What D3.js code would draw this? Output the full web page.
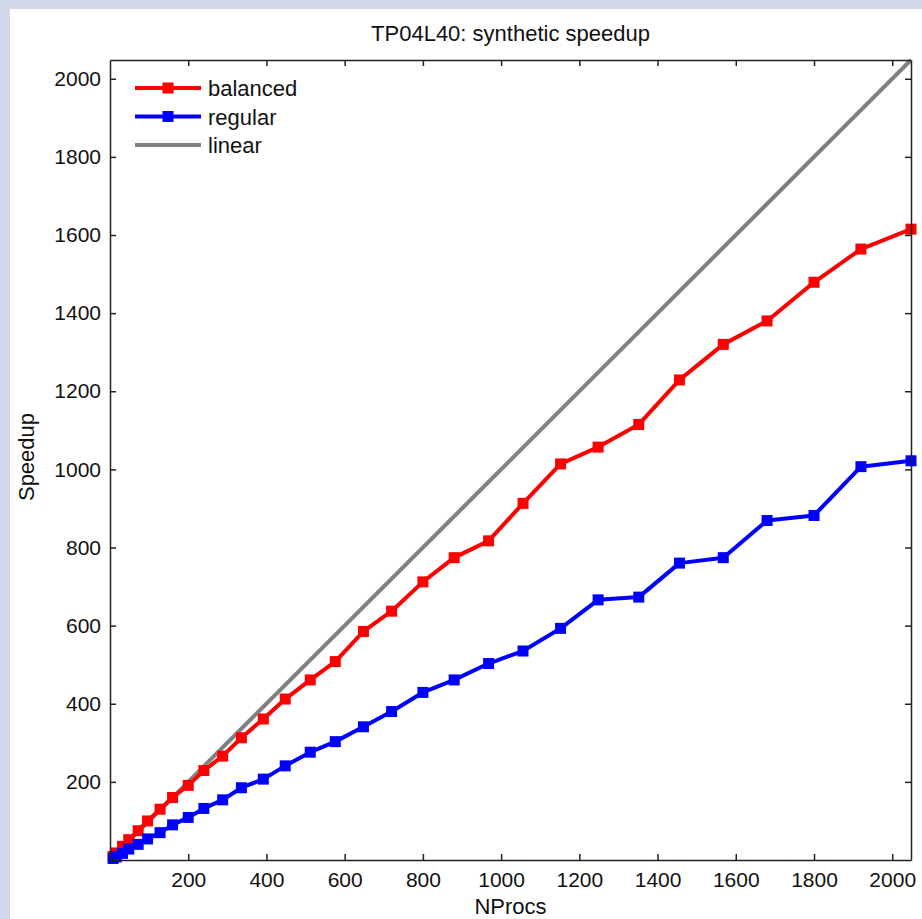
<!DOCTYPE html>
<html>
<head>
<meta charset="utf-8">
<script src="https://cdn.jsdelivr.net/npm/d3@7"></script>
<style>
  body { margin: 0; background: #d1d8ea; }
  svg { display: block; }
  text { font-family: "Liberation Sans", Arial, Helvetica, sans-serif; fill: #111; }
</style>
</head>
<body>
<script>
var W = 922, H = 919;

// NProcs (8 * a * b processor grids)
var nprocs = [8, 16, 32, 48, 72, 96, 128, 160, 200, 240, 288, 336, 392, 448, 512, 576,
  648, 720, 800, 880, 968, 1056, 1152, 1248, 1352, 1456, 1568, 1680, 1800, 1920, 2048];
var balanced = [9, 18, 35, 52, 75, 100, 130, 160, 191, 229, 266, 313, 361, 412, 461, 508,
  585, 637, 712, 774, 817, 913, 1014, 1057, 1115, 1229, 1320, 1380, 1479, 1564, 1615];
var regular = [4, 8, 17, 28, 40, 54, 70, 90, 109, 132, 154, 185, 207, 241, 276, 303,
  341, 380, 429, 461, 503, 535, 593, 666, 673, 760, 774, 869, 882, 1007, 1022];
var linearX = [1, 2048];
var tickVals = [200, 400, 600, 800, 1000, 1200, 1400, 1600, 1800, 2000];

var series = [
  { name: "balanced", color: "#ff0000", ys: balanced, marker: true },
  { name: "regular", color: "#0000ff", ys: regular, marker: true },
  { name: "linear", color: "#808080", ys: null, marker: false }
];

var M = { left: 110, right: 911, top: 60, bottom: 860 };

var svg = d3.select("body").append("svg")
  .attr("width", W)
  .attr("height", H);

// white figure panel
svg.append("rect")
  .attr("x", 10).attr("y", 9)
  .attr("width", W - 10).attr("height", H - 9)
  .attr("fill", "#fff");

var x = d3.scaleLinear().domain([0, 2048]).range([M.left, M.right]);
var y = d3.scaleLinear().domain([0, 2048]).range([M.bottom, M.top]);

var line = d3.line()
  .x(function(d) { return x(d[0]); })
  .y(function(d) { return y(d[1]); });

// linear reference
svg.append("path")
  .datum(linearX.map(function(v) { return [v, v]; }))
  .attr("d", line)
  .attr("fill", "none")
  .attr("stroke", "#808080")
  .attr("stroke-width", 4);

series.filter(function(s) { return s.marker; }).forEach(function(s) {
  var pts = nprocs.map(function(n, i) { return [n, s.ys[i]]; });
  svg.append("path")
    .datum(pts)
    .attr("d", line)
    .attr("fill", "none")
    .attr("stroke", s.color)
    .attr("stroke-width", 4)
    .attr("stroke-linejoin", "round");
  svg.selectAll(null)
    .data(pts)
    .enter().append("rect")
    .attr("x", function(d) { return x(d[0]) - 5.5; })
    .attr("y", function(d) { return y(d[1]) - 5.5; })
    .attr("width", 11)
    .attr("height", 11)
    .attr("fill", s.color);
});

// axes box with inward ticks
var tickLen = 6;
var fmt = d3.format("d");
svg.append("g").attr("transform", "translate(0," + M.bottom + ")")
  .call(d3.axisBottom(x).tickValues(tickVals).tickFormat(fmt).tickSizeInner(-tickLen).tickSizeOuter(0).tickPadding(12));
svg.append("g").attr("transform", "translate(0," + M.top + ")")
  .call(d3.axisTop(x).tickValues(tickVals).tickSizeInner(-tickLen).tickSizeOuter(0).tickFormat(""));
svg.append("g").attr("transform", "translate(" + M.left + ",0)")
  .call(d3.axisLeft(y).tickValues(tickVals).tickFormat(fmt).tickSizeInner(-tickLen).tickSizeOuter(0).tickPadding(9));
svg.append("g").attr("transform", "translate(" + M.right + ",0)")
  .call(d3.axisRight(y).tickValues(tickVals).tickSizeInner(-tickLen).tickSizeOuter(0).tickFormat(""));

svg.selectAll(".domain").attr("stroke", "#222").attr("stroke-width", 1.5);
svg.selectAll(".tick line").attr("stroke", "#222").attr("stroke-width", 1.5);
svg.selectAll(".tick text")
  .style("font-family", "'Liberation Sans', Arial, sans-serif")
  .style("font-size", "21px")
  .attr("fill", "#111");

// title and axis labels
svg.append("text")
  .attr("x", (M.left + M.right) / 2).attr("y", 41)
  .attr("text-anchor", "middle")
  .style("font-size", "22px")
  .text("TP04L40: synthetic speedup");
svg.append("text")
  .attr("x", (M.left + M.right) / 2).attr("y", 914)
  .attr("text-anchor", "middle")
  .style("font-size", "22px")
  .text("NProcs");
svg.append("text")
  .attr("transform", "translate(34," + ((M.top + M.bottom) / 2 - 3) + ") rotate(-90)")
  .attr("text-anchor", "middle")
  .style("font-size", "22px")
  .text("Speedup");

// legend
var leg = svg.append("g").attr("transform", "translate(135,88)");
series.forEach(function(s, i) {
  var g = leg.append("g").attr("transform", "translate(0," + (i * 28.5) + ")");
  g.append("line")
    .attr("x1", 0).attr("x2", 66)
    .attr("stroke", s.color).attr("stroke-width", 4);
  if (s.marker) {
    g.append("rect")
      .attr("x", 33 - 5.5).attr("y", -5.5)
      .attr("width", 11).attr("height", 11)
      .attr("fill", s.color);
  }
  g.append("text")
    .attr("x", 73).attr("y", 8)
    .style("font-size", "22px")
    .text(s.name);
});
</script>
</body>
</html>
